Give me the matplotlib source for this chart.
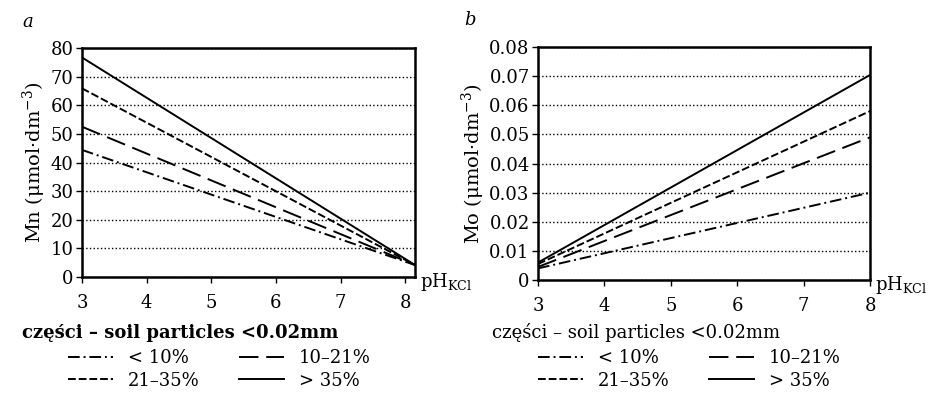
import matplotlib
matplotlib.use('Agg')
import matplotlib.pyplot as plt

plt.rcParams['font.family'] = ['DejaVu Serif']
plt.rcParams['mathtext.fontset'] = 'dejavuserif'
plt.rcParams['font.size'] = 13

# pH range for each panel
ph_mn = [3, 8.15]
ph_mo = [3, 8]

# Mn (umol dm-3) at the ends of the regression lines
mn_lt10 = [44.4, 4.2]
mn_10_21 = [52.5, 4.2]
mn_21_35 = [65.9, 4.2]
mn_gt35 = [76.7, 4.2]

# Mo (umol dm-3)
mo_lt10 = [0.004, 0.030]
mo_10_21 = [0.0045, 0.049]
mo_21_35 = [0.0055, 0.058]
mo_gt35 = [0.006, 0.0704]

labels = ['< 10%', '10–21%', '21–35%', '> 35%']
styles = [(0, (6, 2, 1, 2)), (0, (10, 4)), (0, (4, 1.5)), '-']
legend_title = 'części – soil particles <0.02mm'


def draw_panel(ax, x, series, ymax, yticks, ylabel):
    lines = []
    for vals, ls, lab in zip(series, styles, labels):
        ln, = ax.plot(x, vals, color='k', lw=1.4, ls=ls, label=lab)
        lines.append(ln)
    ax.set_xlim(x[0], x[-1])
    ax.set_ylim(0, ymax)
    ax.set_xticks([3, 4, 5, 6, 7, 8])
    ax.set_yticks(yticks)
    ax.yaxis.grid(True, linestyle=':', color='k', lw=1)
    ax.set_axisbelow(True)
    for sp in ax.spines.values():
        sp.set_linewidth(1.8)
    ax.tick_params(direction='out', length=4, width=1, labelsize=13, pad=2)
    ax.tick_params(axis='x', pad=8)
    ax.set_ylabel(ylabel, fontsize=14, labelpad=2)
    ax.text(1.015, -0.02, r'pH$_{\mathregular{KCl}}$', transform=ax.transAxes,
            ha='left', va='center', fontsize=13)
    return lines


fig = plt.figure(figsize=(9.38, 4.01), dpi=100)
ax1 = fig.add_axes([0.0874, 0.3092, 0.355, 0.5711])
ax2 = fig.add_axes([0.5736, 0.3017, 0.354, 0.5811])

l1 = draw_panel(ax1, ph_mn, [mn_lt10, mn_10_21, mn_21_35, mn_gt35], 80,
                range(0, 81, 10), r'Mn (μmol·dm$^{\mathregular{-3}}$)')
l2 = draw_panel(ax2, ph_mo, [mo_lt10, mo_10_21, mo_21_35, mo_gt35], 0.08,
                [0, 0.01, 0.02, 0.03, 0.04, 0.05, 0.06, 0.07, 0.08],
                r'Mo (μmol·dm$^{\mathregular{-3}}$)')
ax2.set_yticklabels(['0', '0.01', '0.02', '0.03', '0.04', '0.05', '0.06',
                     '0.07', '0.08'])

fig.text(28 / 938, 1 - 22 / 401, 'a', style='italic', fontsize=13,
         ha='center', va='center')
fig.text(470 / 938, 1 - 20 / 401, 'b', style='italic', fontsize=13,
         ha='center', va='center')

fig.text(22 / 938, 1 - 333 / 401, legend_title, fontweight='bold',
         fontsize=13, ha='left', va='center')
fig.text(492 / 938, 1 - 333 / 401, legend_title, fontsize=13,
         ha='left', va='center')

for lines, x0 in [(l1, 68), (l2, 538)]:
    order = [0, 2, 1, 3]
    fig.legend([lines[i] for i in order], [labels[i] for i in order],
               ncol=2, loc='upper left',
               bbox_to_anchor=(x0 / 938, 1 - 349 / 401),
               frameon=False, fontsize=13, handlelength=2.5,
               handletextpad=0.8, columnspacing=2.2, labelspacing=0.25,
               borderpad=0, borderaxespad=0)

fig.savefig('out.png', dpi=100)
